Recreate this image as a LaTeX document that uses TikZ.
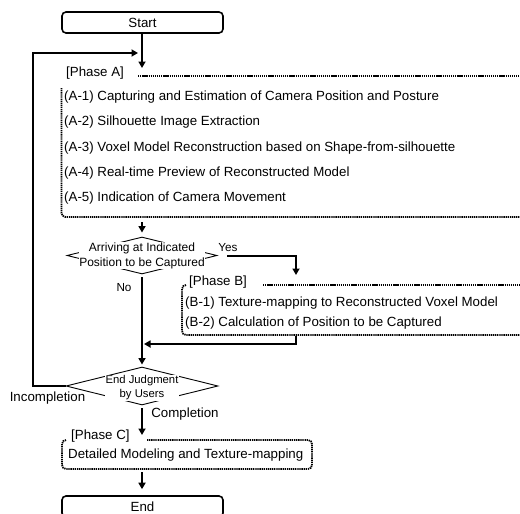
\documentclass[tikz,border=0pt]{standalone}
\usepackage{fontspec}
\setmainfont{Liberation Sans}
\usetikzlibrary{arrows.meta,shapes.geometric}
\begin{document}
\begin{tikzpicture}[x=1pt,y=-1pt,
  txt/.style={inner sep=0pt,font=\fontsize{13.3}{15}\selectfont,text height=9.5pt,text depth=2.8pt},
  sm/.style={inner sep=0pt,font=\fontsize{11.7}{14}\selectfont},
  term/.style={draw,line width=1.6pt,rounded corners=4pt,minimum width=161pt,minimum height=21pt,inner sep=0pt,font=\fontsize{13.3}{15}\selectfont},
  dia/.style={draw,diamond,line width=0.9pt,inner sep=0pt},
  dtext/.style={fill=white,align=center,inner sep=0.5pt},
  flow/.style={line width=2pt,-{Triangle[length=6.5pt,width=7pt]}},
  frame/.style={line width=1.8pt,dash pattern=on 1.3pt off 0.8pt,rounded corners=4pt}
]
\useasboundingbox (0,0) rectangle (520,514);
\clip (0,0) rectangle (520,514);

% Start
\node[term] (start) at (142.5,22.5) {Start};
\coordinate (aIn) at (142,68);
\draw[flow] (start.south -| aIn) -- (aIn);

% Phase A
\node[txt,anchor=west] (labA) at (66,73) {[Phase A]};
\draw[frame] (138,76) -- (525,76);
\draw[frame] (61.5,88) -- (61.5,217) -- (525,217);
\node[txt,anchor=west] (a1) at (64,97) {(A-1) Capturing and Estimation of Camera Position and Posture};
\node[txt,anchor=west] (a2) at (64,122) {(A-2) Silhouette Image Extraction};
\node[txt,anchor=west] (a3) at (64,148) {(A-3) Voxel Model Reconstruction based on Shape-from-silhouette};
\node[txt,anchor=west] (a4) at (64,173) {(A-4) Real-time Preview of Reconstructed Model};
\node[txt,anchor=west] (a5) at (64,198) {(A-5) Indication of Camera Movement};
\coordinate (aOut) at (142,222);

% Decision 1
\node[dia,minimum width=150pt,minimum height=37pt] (d1) at (142,255.5) {};
\node[dtext,font=\fontsize{12}{15}\selectfont] (d1t) at (d1.center) {Arriving at Indicated\\Position to be Captured};
\draw[flow,shorten >=4pt] (aOut) -- (d1.north);

\node[sm] (yes) at (228,247.5) {Yes};
\node[sm] (no) at (124,288) {No};
\coordinate (bIn) at (296,275);
\draw[flow,shorten <=10pt] (d1.east) -| (bIn);

% Phase B
\node[txt,anchor=west] (labB) at (189,282) {[Phase B]};
\draw[frame] (263,285) -- (525,285);
\draw[frame] (186,285) -- (182,285) -- (182,335) -- (525,335);
\node[txt,anchor=west] (b1) at (185,303) {(B-1) Texture-mapping to Reconstructed Voxel Model};
\node[txt,anchor=west] (b2) at (185,323) {(B-2) Calculation of Position to be Captured};
\coordinate (bOut) at (296,336);
\coordinate (join) at (144,344);
\draw[flow] (bOut) |- (join);

% Decision 2
\node[dia,minimum width=152pt,minimum height=38pt] (d2) at (142,386) {};
\node[dtext,font=\fontsize{11.3}{14}\selectfont] (d2t) at (142,388) {End Judgment\\by Users};
\draw[flow,shorten <=3pt,shorten >=2pt] (d1.south) -- (d2.north);

\coordinate (aLoop) at (138,53);
\draw[flow] (d2.west) -- ++(-33,0) |- (aLoop);
\node[txt] (incomp) at (47.5,398) {Incompletion};
\node[txt] (comp) at (185,414) {Completion};
\coordinate (cIn) at (142,435);
\draw[flow,shorten <=3pt] (d2.south) -- (cIn);

% Phase C
\node[txt,anchor=west] (labC) at (71,436) {[Phase C]};
\draw[frame] (147,440) -- (312,440) -- (312,469) -- (62,469) -- (62,440) -- (66,440);
\node[txt,anchor=west] (c1) at (68,455) {Detailed Modeling and Texture-mapping};
\coordinate (cOut) at (142,472);

% End
\node[term] (end) at (142.5,506.5) {End};
\draw[flow,shorten >=6pt] (cOut) -- (cOut |- end.north);
\end{tikzpicture}
\end{document}
